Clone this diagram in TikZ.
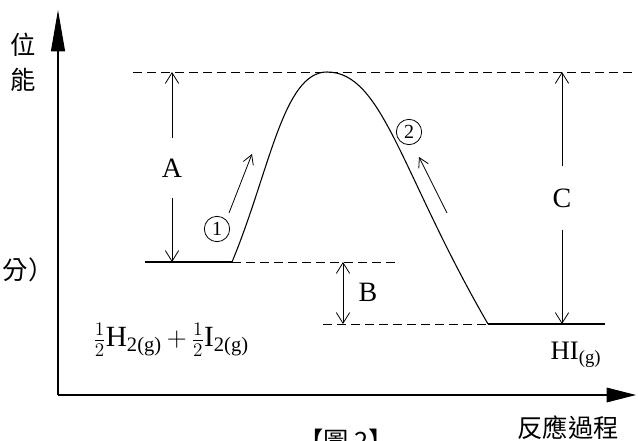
\documentclass[tikz,border=0pt]{standalone}
\usepackage{fontspec}
\setmainfont{Liberation Serif}
\newfontfamily\cjk{Noto Sans CJK TC}
\usetikzlibrary{arrows.meta,positioning}

\begin{document}
\begin{tikzpicture}[
  x=0.75pt,y=-0.75pt,
  axis/.style={line width=0.8pt},
  level/.style={line width=0.8pt},
  guide/.style={line width=0.6pt,dash pattern=on 7pt off 3.5pt},
  span/.style={line width=0.6pt,-{Straight Barb[length=8pt,width=10pt]}},
  both/.style={line width=0.6pt,{Straight Barb[length=8pt,width=10pt]}-{Straight Barb[length=8pt,width=10pt]}},
  hint/.style={line width=0.6pt,-{Straight Barb[length=7pt,width=8pt]}},
  lbl/.style={font=\fontsize{21}{25}\selectfont,inner sep=1pt},
  hz/.style={font=\cjk\fontsize{19}{26}\selectfont,inner sep=0pt},
  num/.style={circle,draw,line width=0.6pt,minimum size=19pt,inner sep=0pt,font=\fontsize{15}{15}\selectfont}
]
\useasboundingbox (0,0) rectangle (638,441);
\coordinate (o) at (58,395);
\coordinate (ytop) at (58,10);
\coordinate (xend) at (636,395);
\coordinate (r0) at (145,262); \coordinate (r) at (232,262); \coordinate (r1) at (397,262);
\coordinate (t0) at (133,72); \coordinate (p) at (327,72); \coordinate (t1) at (635,72);
\coordinate (q0) at (323,324); \coordinate (q) at (488,324); \coordinate (q1) at (605,324);
\coordinate (a0) at (172,72); \coordinate (a1) at (172,262);
\coordinate (b0) at (343,262); \coordinate (b1) at (343,324);
\coordinate (c0) at (562,72); \coordinate (c1) at (562,324);
\coordinate (h1a) at (229,213); \coordinate (h1b) at (252,154);
\coordinate (h2a) at (447,213); \coordinate (h2b) at (419,157);
\node[lbl,minimum height=45pt] (A) at (172,168) {A};
\node[lbl] (B) at (368,292) {B};
\node[lbl,minimum height=47pt] (C) at (562,198) {C};
\node[num] (n1) at (217,229) {1};
\node[num] (n2) at (409,132) {2};
\node[hz,align=center] (ylab) at (23,62) {位\\能};
\node[hz] (unit) at (28,270) {分）};
\node[hz] (xlab) at (568,428) {反應過程};
\node[hz] (fig) at (346,441) {【圖 2】};
\node[font=\fontsize{22}{26}\selectfont,inner sep=0pt] (react) at (171,340) {$\frac{1}{2}$H\textsubscript{2(g)}\,$+$\,$\frac{1}{2}$I\textsubscript{2(g)}};
\node[font=\fontsize{20}{24}\selectfont,inner sep=0pt] (prod) at (576,355) {HI\textsubscript{(g)}};
\draw[axis,-{Triangle[length=31pt,width=10.5pt]}] (o)--(ytop);
\draw[axis,-{Triangle[length=22pt,width=11pt]}] (o)--(xend);
\draw[guide] (t0)--(t1); \draw[guide] (r)--(r1); \draw[guide] (q0)--(q);
\draw[level] (r0)--(r); \draw[level] (q)--(q1);
\draw[level] (r) .. controls (269.5,172) and (283,72) .. (p) .. controls (383,72) and (401,174) .. (q);
\draw[span] (A)--(a0); \draw[span] (A)--(a1);
\draw[span] (C)--(c0); \draw[span] (C)--(c1);
\draw[both] (b0)--(b1);
\draw[hint] (h1a)--(h1b); \draw[hint] (h2a)--(h2b);
\end{tikzpicture}
\end{document}
